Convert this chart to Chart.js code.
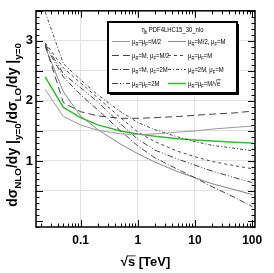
<!DOCTYPE html>
<html>
<head>
<meta charset="utf-8">
<script src="https://cdn.jsdelivr.net/npm/chart.js@4.4.1/dist/chart.umd.min.js"></script>
<style>
  html, body { margin: 0; padding: 0; background: #fff; }
  #wrap { width: 274px; height: 273px; }
</style>
</head>
<body>
<div id="wrap"><canvas id="myChart" width="274" height="273"></canvas></div>
<script>
// sqrt(s) in TeV
const sqrtS = [0.024, 0.05, 0.1, 0.2, 0.5, 1, 2, 5, 10, 20, 50, 100];

// ratio dsigma_NLO/dy / dsigma_LO/dy at y=0, one array per scale choice
const muRM2muFM2 = [2.19, 1.74, 1.60, 1.51, 1.45, 1.44, 1.45, 1.48, 1.50, 1.53, 1.56, 1.58];
const muRM2muFM  = [2.90, 2.15, 1.75, 1.52, 1.28, 1.12, 0.98, 0.82, 0.72, 0.62, 0.52, 0.44];
const muRMmuFM2  = [2.93, 1.97, 1.82, 1.75, 1.71, 1.71, 1.72, 1.74, 1.76, 1.78, 1.80, 1.83];
const muRMmuFM   = [2.97, 2.55, 2.30, 2.05, 1.72, 1.48, 1.32, 1.16, 1.07, 0.99, 0.92, 0.87];
const muRMmuF2M  = [2.92, 2.40, 2.10, 1.85, 1.50, 1.25, 1.05, 0.86, 0.72, 0.57, 0.39, 0.24];
const muR2MmuFM  = [3.48, 2.62, 2.35, 2.10, 1.82, 1.64, 1.52, 1.40, 1.32, 1.26, 1.21, 1.17];
const muR2MmuF2M = [2.95, 2.45, 2.22, 1.98, 1.62, 1.36, 1.18, 1.03, 0.93, 0.83, 0.72, 0.64];
const muSqrtE    = [2.40, 1.89, 1.72, 1.60, 1.50, 1.45, 1.41, 1.37, 1.35, 1.33, 1.31, 1.30];

const xTickValues = [0.1, 1, 10, 100];
const xTickLabels = ['0.1', '1', '10', '100'];
const yTickValues = [0, 1, 2, 3];
const yTickLabels = ['0', '1', '2', '3'];

const legendTitle = [['η', 'n'], ['b', 's'], [' PDF4LHC15_30_nlo', 'n']];

const mainFont = "'Liberation Sans', Arial, sans-serif";

function pts(ys) {
    return sqrtS.map((x, i) => ({ x: x, y: ys[i] }));
}

// small rich-text helper: 'n' normal, 's' subscript, 'i' italic, 'o' overline
// sx squeezes the text horizontally (the legend uses a narrow face)
function drawParts(ctx, parts, x, y, size, weight, draw, sx) {
    sx = sx || 1;
    let cx = 0;
    ctx.save();
    ctx.translate(x, y);
    ctx.scale(sx, 1);
    for (const [t, st] of parts) {
        const fs = st === 's' ? size * 0.7 : size;
        ctx.font = weight + ' ' + (st === 'i' ? 'italic ' : '') + fs + 'px ' + mainFont;
        const dy = st === 's' ? size * 0.3 : 0;
        const w = ctx.measureText(t).width;
        if (draw) {
            ctx.fillText(t, cx, dy);
            if (st === 'o') {
                ctx.beginPath();
                ctx.lineWidth = 0.8;
                ctx.moveTo(cx - 0.5, -size * 0.78);
                ctx.lineTo(cx + w + 0.5, -size * 0.78);
                ctx.stroke();
            }
        }
        cx += w;
    }
    ctx.restore();
    return cx * sx;
}

const datasets = [
    { label: 'μR=μF=M/2', data: pts(muRM2muFM2), borderColor: '#9a9a9a', borderWidth: 1, borderDash: [],
      legend: [['μ', 'n'], ['R', 's'], ['=μ', 'n'], ['F', 's'], ['=M/2', 'n']] },
    { label: 'μR=M, μF=M/2', data: pts(muRMmuFM2), borderColor: '#444', borderWidth: 1, borderDash: [7, 4],
      legend: [['μ', 'n'], ['R', 's'], ['=M, μ', 'n'], ['F', 's'], ['=M/2', 'n']] },
    { label: 'μR=M, μF=2M', data: pts(muRMmuF2M), borderColor: '#444', borderWidth: 1, borderDash: [6, 2, 1, 2],
      legend: [['μ', 'n'], ['R', 's'], ['=M, μ', 'n'], ['F', 's'], ['=2M', 'n']] },
    { label: 'μR=μF=2M', data: pts(muR2MmuF2M), borderColor: '#444', borderWidth: 1, borderDash: [6, 2, 1, 2, 1, 2],
      legend: [['μ', 'n'], ['R', 's'], ['=μ', 'n'], ['F', 's'], ['=2M', 'n']] },
    { label: 'μR=M/2, μF=M', data: pts(muRM2muFM), borderColor: '#888', borderWidth: 1, borderDash: [],
      legend: [['μ', 'n'], ['R', 's'], ['=M/2, μ', 'n'], ['F', 's'], ['=M', 'n']] },
    { label: 'μR=μF=M', data: pts(muRMmuFM), borderColor: '#444', borderWidth: 1, borderDash: [3, 3],
      legend: [['μ', 'n'], ['R', 's'], ['=μ', 'n'], ['F', 's'], ['=M', 'n']] },
    { label: 'μR=2M, μF=M', data: pts(muR2MmuFM), borderColor: '#444', borderWidth: 1, borderDash: [3, 2, 1, 2],
      legend: [['μ', 'n'], ['R', 's'], ['=2M, μ', 'n'], ['F', 's'], ['=M', 'n']] },
    { label: 'μR=μF=M/√e', data: pts(muSqrtE), borderColor: '#33bb33', borderWidth: 1.5, borderDash: [],
      legend: [['μ', 'n'], ['R', 's'], ['=μ', 'n'], ['F', 's'], ['=M/√', 'n'], ['e', 'o']] },
];
datasets.forEach(d => { d.fill = false; d.pointRadius = 0; d.tension = 0; });

function isDecade(v) {
    const l = Math.log10(v);
    return Math.abs(l - Math.round(l)) < 1e-6;
}

// frame, inward ticks, axis titles, legend
const decorPlugin = {
    id: 'decor',
    afterDatasetsDraw(chart) {
        const ctx = chart.ctx;
        const a = chart.chartArea;
        const xs = chart.scales.x, ys = chart.scales.y;
        ctx.save();
        ctx.strokeStyle = '#000';
        ctx.lineWidth = 1;
        // x ticks
        for (let e = -2; e <= 2; e++) {
            for (let k = 1; k <= 9; k++) {
                const v = k * Math.pow(10, e);
                if (v < xs.min || v > xs.max) continue;
                const px = Math.round(xs.getPixelForValue(v)) + 0.5;
                const len = k === 1 ? 7 : 3.5;
                ctx.beginPath();
                ctx.moveTo(px, a.bottom); ctx.lineTo(px, a.bottom - len);
                ctx.moveTo(px, a.top); ctx.lineTo(px, a.top + len);
                ctx.stroke();
            }
        }
        // y ticks
        for (let i = -1; i <= 35; i++) {
            const v = i / 10;
            const py = Math.round(ys.getPixelForValue(v)) + 0.5;
            const len = i % 5 === 0 ? 7 : 3.5;
            ctx.beginPath();
            ctx.moveTo(a.left, py); ctx.lineTo(a.left + len, py);
            ctx.moveTo(a.right, py); ctx.lineTo(a.right - len, py);
            ctx.stroke();
        }
        // frame
        ctx.lineWidth = 1.5;
        ctx.strokeRect(a.left, a.top, a.right - a.left, a.bottom - a.top);

        // legend box
        const bx = 108, by = 22, bw = 129, bh = 71;
        ctx.fillStyle = '#000';
        ctx.fillRect(bx + 2, by + 2, bw, bh);
        ctx.fillStyle = '#fff';
        ctx.fillRect(bx, by, bw, bh);
        ctx.lineWidth = 2;
        ctx.strokeRect(bx, by, bw, bh);
        ctx.fillStyle = '#000';
        ctx.textBaseline = 'alphabetic';
        const sq = 0.74;
        const tw = drawParts(ctx, legendTitle, 0, 0, 8, 'normal', false, sq);
        drawParts(ctx, legendTitle, bx + bw / 2 - tw / 2, by + 10, 8, 'normal', true, sq);
        const rowsY = [by + 22, by + 36, by + 50, by + 64];
        chart.data.datasets.forEach((d, i) => {
            const col = Math.floor(i / 4), row = i % 4;
            const lx = col === 0 ? bx + 4 : bx + 60;
            const ly = rowsY[row];
            ctx.save();
            ctx.strokeStyle = d.borderColor;
            ctx.lineWidth = d.borderWidth;
            ctx.setLineDash(d.borderDash);
            ctx.beginPath();
            ctx.moveTo(lx, ly - 2.5); ctx.lineTo(lx + 18, ly - 2.5);
            ctx.stroke();
            ctx.restore();
            ctx.fillStyle = '#000';
            ctx.strokeStyle = '#000';
            drawParts(ctx, d.legend, lx + 20, ly, 8, 'normal', true, sq);
        });

        // y title (rotated)
        const yTitle = [['dσ', 'n'], ['NLO', 's'], ['/dy |', 'n'], ['y=0', 's'], ['/dσ', 'n'], ['LO', 's'], ['/dy |', 'n'], ['y=0', 's']];
        ctx.save();
        ctx.translate(13, 125);
        ctx.rotate(-Math.PI / 2);
        const yw = drawParts(ctx, yTitle, 0, 0, 14, 'bold', false);
        drawParts(ctx, yTitle, -yw / 2, 4, 14, 'bold', true);
        ctx.restore();

        // x title
        const xTitle = [['√', 'n'], ['s', 'o'], [' [TeV]', 'n']];
        const xw = drawParts(ctx, xTitle, 0, 0, 13, 'bold', false);
        ctx.lineWidth = 1;
        drawParts(ctx, xTitle, (a.left + a.right) / 2 - xw / 2, 266, 13, 'bold', true);
        ctx.restore();
    }
};

const chart = new Chart(document.getElementById('myChart').getContext('2d'), {
    type: 'line',
    data: { datasets: datasets },
    options: {
        responsive: false,
        devicePixelRatio: 1,
        animation: false,
        layout: { padding: { top: 8, right: 19, left: 0, bottom: 0 } },
        plugins: { legend: { display: false }, tooltip: { enabled: false } },
        scales: {
            x: {
                type: 'logarithmic',
                min: 0.0166,
                max: 112,
                border: { display: false },
                grid: {
                    drawTicks: false,
                    color: c => (c.tick && isDecade(c.tick.value) ? '#e2e2e2' : 'rgba(0,0,0,0)'),
                },
                ticks: {
                    autoSkip: false,
                    maxRotation: 0,
                    padding: 6,
                    color: '#000',
                    font: { family: mainFont, size: 12, weight: 'bold' },
                    callback: v => {
                        const i = xTickValues.findIndex(t => Math.abs(Math.log10(t) - Math.log10(v)) < 1e-6);
                        return i >= 0 ? xTickLabels[i] : '';
                    },
                },
                afterFit: s => { s.height = 46; },
            },
            y: {
                min: -0.1,
                max: 3.5,
                border: { display: false },
                grid: {
                    drawTicks: false,
                    color: c => (c.tick && c.tick.value >= 0 && c.tick.value < 3.5 ? '#e2e2e2' : 'rgba(0,0,0,0)'),
                },
                ticks: {
                    stepSize: 0.5,
                    padding: 3,
                    color: '#000',
                    font: { family: mainFont, size: 13, weight: 'bold' },
                    callback: v => {
                        const i = yTickValues.indexOf(v);
                        return i >= 0 ? yTickLabels[i] : '';
                    },
                },
                afterFit: s => { s.width = 36; },
            },
        },
    },
    plugins: [decorPlugin],
});
</script>
</body>
</html>
